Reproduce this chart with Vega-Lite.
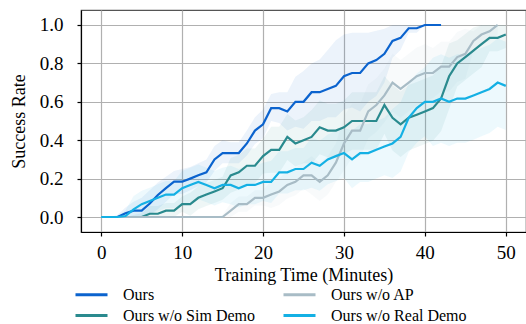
{
"$schema": "https://vega.github.io/schema/vega-lite/v6.json",
"width": 445, "height": 222,
"autosize": {"type": "none"},
"padding": {"left": 81, "top": 10, "right": 0, "bottom": 92},
"config": {
  "font": "Liberation Serif",
  "view": {"stroke": "#555555", "strokeWidth": 1.2}
},
"data": {"values": [
{"s":"Ours","t":0,"v":0,"lo":0,"hi":0},{"s":"Ours","t":1,"v":0,"lo":0,"hi":0},{"s":"Ours","t":2,"v":0,"lo":0,"hi":0.01},{"s":"Ours","t":3,"v":0.02,"lo":0,"hi":0.05},{"s":"Ours","t":4,"v":0.033,"lo":0,"hi":0.08},{"s":"Ours","t":5,"v":0.033,"lo":0,"hi":0.1},{"s":"Ours","t":6,"v":0.07,"lo":0.01,"hi":0.14},{"s":"Ours","t":7,"v":0.115,"lo":0.04,"hi":0.18},{"s":"Ours","t":8,"v":0.15,"lo":0.08,"hi":0.21},{"s":"Ours","t":9,"v":0.184,"lo":0.12,"hi":0.24},{"s":"Ours","t":10,"v":0.184,"lo":0.12,"hi":0.25},{"s":"Ours","t":11,"v":0.2,"lo":0.14,"hi":0.26},{"s":"Ours","t":12,"v":0.217,"lo":0.16,"hi":0.28},{"s":"Ours","t":13,"v":0.233,"lo":0.18,"hi":0.3},{"s":"Ours","t":14,"v":0.3,"lo":0.24,"hi":0.37},{"s":"Ours","t":15,"v":0.333,"lo":0.28,"hi":0.4},{"s":"Ours","t":16,"v":0.333,"lo":0.28,"hi":0.39},{"s":"Ours","t":17,"v":0.333,"lo":0.28,"hi":0.39},{"s":"Ours","t":18,"v":0.383,"lo":0.32,"hi":0.45},{"s":"Ours","t":19,"v":0.45,"lo":0.38,"hi":0.52},{"s":"Ours","t":20,"v":0.483,"lo":0.41,"hi":0.56},{"s":"Ours","t":21,"v":0.567,"lo":0.5,"hi":0.64},{"s":"Ours","t":22,"v":0.567,"lo":0.49,"hi":0.65},{"s":"Ours","t":23,"v":0.55,"lo":0.45,"hi":0.65},{"s":"Ours","t":24,"v":0.6,"lo":0.47,"hi":0.73},{"s":"Ours","t":25,"v":0.6,"lo":0.46,"hi":0.76},{"s":"Ours","t":26,"v":0.65,"lo":0.5,"hi":0.8},{"s":"Ours","t":27,"v":0.65,"lo":0.5,"hi":0.82},{"s":"Ours","t":28,"v":0.667,"lo":0.52,"hi":0.87},{"s":"Ours","t":29,"v":0.683,"lo":0.52,"hi":0.92},{"s":"Ours","t":30,"v":0.733,"lo":0.56,"hi":0.95},{"s":"Ours","t":31,"v":0.75,"lo":0.57,"hi":0.96},{"s":"Ours","t":32,"v":0.75,"lo":0.55,"hi":0.96},{"s":"Ours","t":33,"v":0.8,"lo":0.6,"hi":0.96},{"s":"Ours","t":34,"v":0.817,"lo":0.63,"hi":0.97},{"s":"Ours","t":35,"v":0.85,"lo":0.7,"hi":0.98},{"s":"Ours","t":36,"v":0.917,"lo":0.83,"hi":1},{"s":"Ours","t":37,"v":0.933,"lo":0.87,"hi":1},{"s":"Ours","t":38,"v":0.983,"lo":0.96,"hi":1},{"s":"Ours","t":39,"v":0.983,"lo":0.96,"hi":1},{"s":"Ours","t":40,"v":1,"lo":1,"hi":1},{"s":"Ours","t":41,"v":1,"lo":1,"hi":1},{"s":"Ours","t":42,"v":1,"lo":1,"hi":1},
{"s":"Ours w/o Sim Demo","t":0,"v":0,"lo":0,"hi":0},{"s":"Ours w/o Sim Demo","t":1,"v":0,"lo":0,"hi":0},{"s":"Ours w/o Sim Demo","t":2,"v":0,"lo":0,"hi":0},{"s":"Ours w/o Sim Demo","t":3,"v":0,"lo":0,"hi":0},{"s":"Ours w/o Sim Demo","t":4,"v":0,"lo":0,"hi":0.01},{"s":"Ours w/o Sim Demo","t":5,"v":0,"lo":0,"hi":0.02},{"s":"Ours w/o Sim Demo","t":6,"v":0.017,"lo":0,"hi":0.057},{"s":"Ours w/o Sim Demo","t":7,"v":0.017,"lo":0,"hi":0.057},{"s":"Ours w/o Sim Demo","t":8,"v":0.033,"lo":0,"hi":0.073},{"s":"Ours w/o Sim Demo","t":9,"v":0.033,"lo":0,"hi":0.073},{"s":"Ours w/o Sim Demo","t":10,"v":0.067,"lo":0.027,"hi":0.107},{"s":"Ours w/o Sim Demo","t":11,"v":0.067,"lo":0.007,"hi":0.127},{"s":"Ours w/o Sim Demo","t":12,"v":0.1,"lo":0.04,"hi":0.16},{"s":"Ours w/o Sim Demo","t":13,"v":0.117,"lo":0.057,"hi":0.177},{"s":"Ours w/o Sim Demo","t":14,"v":0.133,"lo":0.073,"hi":0.193},{"s":"Ours w/o Sim Demo","t":15,"v":0.15,"lo":0.09,"hi":0.21},{"s":"Ours w/o Sim Demo","t":16,"v":0.217,"lo":0.127,"hi":0.307},{"s":"Ours w/o Sim Demo","t":17,"v":0.233,"lo":0.143,"hi":0.323},{"s":"Ours w/o Sim Demo","t":18,"v":0.267,"lo":0.177,"hi":0.357},{"s":"Ours w/o Sim Demo","t":19,"v":0.267,"lo":0.177,"hi":0.357},{"s":"Ours w/o Sim Demo","t":20,"v":0.317,"lo":0.227,"hi":0.407},{"s":"Ours w/o Sim Demo","t":21,"v":0.35,"lo":0.23,"hi":0.47},{"s":"Ours w/o Sim Demo","t":22,"v":0.35,"lo":0.23,"hi":0.47},{"s":"Ours w/o Sim Demo","t":23,"v":0.417,"lo":0.297,"hi":0.537},{"s":"Ours w/o Sim Demo","t":24,"v":0.383,"lo":0.263,"hi":0.503},{"s":"Ours w/o Sim Demo","t":25,"v":0.4,"lo":0.28,"hi":0.52},{"s":"Ours w/o Sim Demo","t":26,"v":0.417,"lo":0.277,"hi":0.557},{"s":"Ours w/o Sim Demo","t":27,"v":0.467,"lo":0.327,"hi":0.607},{"s":"Ours w/o Sim Demo","t":28,"v":0.45,"lo":0.31,"hi":0.59},{"s":"Ours w/o Sim Demo","t":29,"v":0.45,"lo":0.31,"hi":0.59},{"s":"Ours w/o Sim Demo","t":30,"v":0.467,"lo":0.327,"hi":0.607},{"s":"Ours w/o Sim Demo","t":31,"v":0.5,"lo":0.35,"hi":0.65},{"s":"Ours w/o Sim Demo","t":32,"v":0.5,"lo":0.35,"hi":0.65},{"s":"Ours w/o Sim Demo","t":33,"v":0.5,"lo":0.35,"hi":0.65},{"s":"Ours w/o Sim Demo","t":34,"v":0.5,"lo":0.35,"hi":0.65},{"s":"Ours w/o Sim Demo","t":35,"v":0.583,"lo":0.433,"hi":0.733},{"s":"Ours w/o Sim Demo","t":36,"v":0.517,"lo":0.347,"hi":0.687},{"s":"Ours w/o Sim Demo","t":37,"v":0.483,"lo":0.313,"hi":0.653},{"s":"Ours w/o Sim Demo","t":38,"v":0.517,"lo":0.347,"hi":0.687},{"s":"Ours w/o Sim Demo","t":39,"v":0.533,"lo":0.363,"hi":0.703},{"s":"Ours w/o Sim Demo","t":40,"v":0.55,"lo":0.38,"hi":0.72},{"s":"Ours w/o Sim Demo","t":41,"v":0.567,"lo":0.397,"hi":0.737},{"s":"Ours w/o Sim Demo","t":42,"v":0.617,"lo":0.447,"hi":0.787},{"s":"Ours w/o Sim Demo","t":43,"v":0.733,"lo":0.563,"hi":0.903},{"s":"Ours w/o Sim Demo","t":44,"v":0.8,"lo":0.68,"hi":0.92},{"s":"Ours w/o Sim Demo","t":45,"v":0.833,"lo":0.713,"hi":0.953},{"s":"Ours w/o Sim Demo","t":46,"v":0.867,"lo":0.747,"hi":0.987},{"s":"Ours w/o Sim Demo","t":47,"v":0.9,"lo":0.78,"hi":1},{"s":"Ours w/o Sim Demo","t":48,"v":0.933,"lo":0.863,"hi":1},{"s":"Ours w/o Sim Demo","t":49,"v":0.933,"lo":0.863,"hi":1},{"s":"Ours w/o Sim Demo","t":50,"v":0.95,"lo":0.88,"hi":1},
{"s":"Ours w/o AP","t":0,"v":0,"lo":0,"hi":0},{"s":"Ours w/o AP","t":1,"v":0,"lo":0,"hi":0},{"s":"Ours w/o AP","t":2,"v":0,"lo":0,"hi":0},{"s":"Ours w/o AP","t":3,"v":0,"lo":0,"hi":0},{"s":"Ours w/o AP","t":4,"v":0,"lo":0,"hi":0},{"s":"Ours w/o AP","t":5,"v":0,"lo":0,"hi":0},{"s":"Ours w/o AP","t":6,"v":0,"lo":0,"hi":0},{"s":"Ours w/o AP","t":7,"v":0,"lo":0,"hi":0},{"s":"Ours w/o AP","t":8,"v":0,"lo":0,"hi":0},{"s":"Ours w/o AP","t":9,"v":0,"lo":0,"hi":0},{"s":"Ours w/o AP","t":10,"v":0,"lo":0,"hi":0},{"s":"Ours w/o AP","t":11,"v":0,"lo":0,"hi":0},{"s":"Ours w/o AP","t":12,"v":0,"lo":0,"hi":0},{"s":"Ours w/o AP","t":13,"v":0,"lo":0,"hi":0},{"s":"Ours w/o AP","t":14,"v":0,"lo":0,"hi":0},{"s":"Ours w/o AP","t":15,"v":0,"lo":0,"hi":0.01},{"s":"Ours w/o AP","t":16,"v":0.033,"lo":0,"hi":0.073},{"s":"Ours w/o AP","t":17,"v":0.067,"lo":0.027,"hi":0.107},{"s":"Ours w/o AP","t":18,"v":0.067,"lo":0.027,"hi":0.107},{"s":"Ours w/o AP","t":19,"v":0.1,"lo":0.06,"hi":0.14},{"s":"Ours w/o AP","t":20,"v":0.1,"lo":0.06,"hi":0.14},{"s":"Ours w/o AP","t":21,"v":0.117,"lo":0.047,"hi":0.187},{"s":"Ours w/o AP","t":22,"v":0.133,"lo":0.063,"hi":0.203},{"s":"Ours w/o AP","t":23,"v":0.167,"lo":0.097,"hi":0.237},{"s":"Ours w/o AP","t":24,"v":0.183,"lo":0.113,"hi":0.253},{"s":"Ours w/o AP","t":25,"v":0.217,"lo":0.147,"hi":0.287},{"s":"Ours w/o AP","t":26,"v":0.217,"lo":0.117,"hi":0.317},{"s":"Ours w/o AP","t":27,"v":0.183,"lo":0.083,"hi":0.283},{"s":"Ours w/o AP","t":28,"v":0.217,"lo":0.117,"hi":0.317},{"s":"Ours w/o AP","t":29,"v":0.283,"lo":0.183,"hi":0.383},{"s":"Ours w/o AP","t":30,"v":0.383,"lo":0.243,"hi":0.523},{"s":"Ours w/o AP","t":31,"v":0.45,"lo":0.31,"hi":0.59},{"s":"Ours w/o AP","t":32,"v":0.45,"lo":0.31,"hi":0.59},{"s":"Ours w/o AP","t":33,"v":0.55,"lo":0.41,"hi":0.69},{"s":"Ours w/o AP","t":34,"v":0.583,"lo":0.443,"hi":0.723},{"s":"Ours w/o AP","t":35,"v":0.633,"lo":0.493,"hi":0.773},{"s":"Ours w/o AP","t":36,"v":0.7,"lo":0.55,"hi":0.85},{"s":"Ours w/o AP","t":37,"v":0.667,"lo":0.517,"hi":0.817},{"s":"Ours w/o AP","t":38,"v":0.7,"lo":0.55,"hi":0.85},{"s":"Ours w/o AP","t":39,"v":0.733,"lo":0.583,"hi":0.883},{"s":"Ours w/o AP","t":40,"v":0.75,"lo":0.6,"hi":0.9},{"s":"Ours w/o AP","t":41,"v":0.75,"lo":0.62,"hi":0.88},{"s":"Ours w/o AP","t":42,"v":0.783,"lo":0.653,"hi":0.913},{"s":"Ours w/o AP","t":43,"v":0.783,"lo":0.653,"hi":0.913},{"s":"Ours w/o AP","t":44,"v":0.833,"lo":0.703,"hi":0.963},{"s":"Ours w/o AP","t":45,"v":0.85,"lo":0.72,"hi":0.98},{"s":"Ours w/o AP","t":46,"v":0.917,"lo":0.867,"hi":0.967},{"s":"Ours w/o AP","t":47,"v":0.95,"lo":0.9,"hi":1},{"s":"Ours w/o AP","t":48,"v":0.967,"lo":0.917,"hi":1},{"s":"Ours w/o AP","t":49,"v":1,"lo":0.95,"hi":1},
{"s":"Ours w/o Real Demo","t":0,"v":0,"lo":0,"hi":0},{"s":"Ours w/o Real Demo","t":1,"v":0,"lo":0,"hi":0},{"s":"Ours w/o Real Demo","t":2,"v":0,"lo":0,"hi":0},{"s":"Ours w/o Real Demo","t":3,"v":0.005,"lo":0,"hi":0.035},{"s":"Ours w/o Real Demo","t":4,"v":0.04,"lo":0,"hi":0.11},{"s":"Ours w/o Real Demo","t":5,"v":0.067,"lo":0,"hi":0.137},{"s":"Ours w/o Real Demo","t":6,"v":0.083,"lo":0.013,"hi":0.153},{"s":"Ours w/o Real Demo","t":7,"v":0.1,"lo":0.03,"hi":0.17},{"s":"Ours w/o Real Demo","t":8,"v":0.117,"lo":0.047,"hi":0.187},{"s":"Ours w/o Real Demo","t":9,"v":0.117,"lo":0.047,"hi":0.187},{"s":"Ours w/o Real Demo","t":10,"v":0.15,"lo":0.06,"hi":0.24},{"s":"Ours w/o Real Demo","t":11,"v":0.167,"lo":0.077,"hi":0.257},{"s":"Ours w/o Real Demo","t":12,"v":0.183,"lo":0.093,"hi":0.273},{"s":"Ours w/o Real Demo","t":13,"v":0.167,"lo":0.077,"hi":0.257},{"s":"Ours w/o Real Demo","t":14,"v":0.15,"lo":0.06,"hi":0.24},{"s":"Ours w/o Real Demo","t":15,"v":0.167,"lo":0.077,"hi":0.257},{"s":"Ours w/o Real Demo","t":16,"v":0.167,"lo":0.067,"hi":0.267},{"s":"Ours w/o Real Demo","t":17,"v":0.15,"lo":0.05,"hi":0.25},{"s":"Ours w/o Real Demo","t":18,"v":0.167,"lo":0.067,"hi":0.267},{"s":"Ours w/o Real Demo","t":19,"v":0.167,"lo":0.067,"hi":0.267},{"s":"Ours w/o Real Demo","t":20,"v":0.183,"lo":0.083,"hi":0.283},{"s":"Ours w/o Real Demo","t":21,"v":0.183,"lo":0.073,"hi":0.293},{"s":"Ours w/o Real Demo","t":22,"v":0.233,"lo":0.123,"hi":0.343},{"s":"Ours w/o Real Demo","t":23,"v":0.233,"lo":0.123,"hi":0.343},{"s":"Ours w/o Real Demo","t":24,"v":0.25,"lo":0.14,"hi":0.36},{"s":"Ours w/o Real Demo","t":25,"v":0.25,"lo":0.14,"hi":0.36},{"s":"Ours w/o Real Demo","t":26,"v":0.283,"lo":0.153,"hi":0.413},{"s":"Ours w/o Real Demo","t":27,"v":0.267,"lo":0.137,"hi":0.397},{"s":"Ours w/o Real Demo","t":28,"v":0.3,"lo":0.17,"hi":0.43},{"s":"Ours w/o Real Demo","t":29,"v":0.317,"lo":0.187,"hi":0.447},{"s":"Ours w/o Real Demo","t":30,"v":0.333,"lo":0.203,"hi":0.463},{"s":"Ours w/o Real Demo","t":31,"v":0.3,"lo":0.15,"hi":0.45},{"s":"Ours w/o Real Demo","t":32,"v":0.333,"lo":0.183,"hi":0.483},{"s":"Ours w/o Real Demo","t":33,"v":0.333,"lo":0.183,"hi":0.483},{"s":"Ours w/o Real Demo","t":34,"v":0.35,"lo":0.2,"hi":0.5},{"s":"Ours w/o Real Demo","t":35,"v":0.367,"lo":0.217,"hi":0.517},{"s":"Ours w/o Real Demo","t":36,"v":0.383,"lo":0.203,"hi":0.563},{"s":"Ours w/o Real Demo","t":37,"v":0.417,"lo":0.237,"hi":0.597},{"s":"Ours w/o Real Demo","t":38,"v":0.517,"lo":0.337,"hi":0.697},{"s":"Ours w/o Real Demo","t":39,"v":0.567,"lo":0.387,"hi":0.747},{"s":"Ours w/o Real Demo","t":40,"v":0.6,"lo":0.42,"hi":0.78},{"s":"Ours w/o Real Demo","t":41,"v":0.6,"lo":0.37,"hi":0.83},{"s":"Ours w/o Real Demo","t":42,"v":0.617,"lo":0.387,"hi":0.847},{"s":"Ours w/o Real Demo","t":43,"v":0.6,"lo":0.37,"hi":0.83},{"s":"Ours w/o Real Demo","t":44,"v":0.617,"lo":0.387,"hi":0.847},{"s":"Ours w/o Real Demo","t":45,"v":0.617,"lo":0.387,"hi":0.847},{"s":"Ours w/o Real Demo","t":46,"v":0.633,"lo":0.403,"hi":0.863},{"s":"Ours w/o Real Demo","t":47,"v":0.65,"lo":0.42,"hi":0.88},{"s":"Ours w/o Real Demo","t":48,"v":0.667,"lo":0.437,"hi":0.897},{"s":"Ours w/o Real Demo","t":49,"v":0.7,"lo":0.47,"hi":0.93},{"s":"Ours w/o Real Demo","t":50,"v":0.683,"lo":0.453,"hi":0.913}
]},
"encoding": {
  "x": {"field": "t", "type": "quantitative", "scale": {"domain": [-2.5, 52.5], "nice": false, "zero": false},
    "axis": {"values": [0, 10, 20, 30, 40, 50], "title": "Training Time (Minutes)", "grid": true, "gridColor": "#b0b0b0", "gridWidth": 1.2, "domainColor": "#000000", "domainWidth": 1.2, "tickColor": "#000000", "tickSize": 4, "tickWidth": 1.2, "labelFont": "Liberation Serif", "labelFontSize": 19, "labelColor": "#000000", "labelPadding": 7, "titleFont": "Liberation Serif", "titleFontSize": 18, "titleFontWeight": "normal", "titleColor": "#000000", "titlePadding": 4}},
  "color": {"field": "s", "type": "nominal", "scale": {"domain": ["Ours", "Ours w/o Sim Demo", "Ours w/o AP", "Ours w/o Real Demo"], "range": ["#0b63ce", "#2a8a8e", "#a8bcc6", "#14b0e4"]},
    "legend": {"orient": "none", "legendX": -1, "legendY": 273, "columns": 2, "title": null, "symbolType": "M-1.6,0H1.6", "symbolSize": 400, "symbolStrokeWidth": 3, "symbolOpacity": 1, "columnPadding": 22, "rowPadding": 1, "labelOffset": 20, "labelFont": "Liberation Serif", "labelFontSize": 16, "labelColor": "#000000",
      "encode": {"symbols": {"update": {"stroke": {"scale": "color", "field": "value"}, "strokeWidth": {"value": 3}, "opacity": {"value": 1}, "fillOpacity": {"value": 0}}}}}}
},
"layer": [
  {"mark": {"type": "area", "opacity": 0.08, "interpolate": "linear"},
   "encoding": {
     "y": {"field": "lo", "type": "quantitative", "scale": {"domain": [-0.078, 1.078], "nice": false, "zero": false},
       "axis": {"values": [0, 0.2, 0.4, 0.6, 0.8, 1.0], "format": ".1f", "title": "Success Rate", "grid": true, "gridColor": "#b0b0b0", "gridWidth": 1.2, "domainColor": "#000000", "domainWidth": 1.2, "tickColor": "#000000", "tickSize": 4, "tickWidth": 1.2, "labelFont": "Liberation Serif", "labelFontSize": 19, "labelColor": "#000000", "labelPadding": 14, "titleFont": "Liberation Serif", "titleFontSize": 18, "titleFontWeight": "normal", "titleColor": "#000000", "titlePadding": 11}},
     "y2": {"field": "hi"}}},
  {"mark": {"type": "line", "strokeWidth": 2.2},
   "encoding": {
     "y": {"field": "v", "type": "quantitative"}}}
]
}
